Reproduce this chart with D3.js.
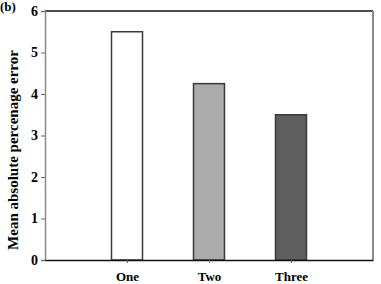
<!DOCTYPE html>
<html>
<head>
<meta charset="utf-8">
<script src="https://cdn.jsdelivr.net/npm/d3@7"></script>
<style>
  body { margin: 0; background: #fff; }
  svg text { font-weight: bold; }
</style>
</head>
<body>
<div id="chart"></div>
<script>
// data
const categories = ["One", "Two", "Three"];
const values = [5.5, 4.25, 3.5];
const fills = ["#ffffff", "#ababab", "#5f5f5f"];
const yTicks = [0, 1, 2, 3, 4, 5, 6];

const width = 381, height = 284;
const margin = {top: 11, right: 8, bottom: 24, left: 45};
const serif = "'Liberation Serif', 'Times New Roman', serif";

const svg = d3.select("#chart")
  .append("svg")
    .attr("width", width)
    .attr("height", height);

// x: one empty slot either side of the three bars
const x = d3.scalePoint()
  .domain(["_l", ...categories, "_r"])
  .range([margin.left, width - margin.right]);

const y = d3.scaleLinear()
  .domain([0, 6])
  .range([height - margin.bottom, margin.top]);

const barW = 31;

// frame: top & bottom black, sides grey
svg.append("line")
  .attr("x1", margin.left).attr("x2", width - margin.right)
  .attr("y1", y(6)).attr("y2", y(6))
  .attr("stroke", "#111").attr("stroke-width", 1.5);
svg.append("line")
  .attr("x1", width - margin.right).attr("x2", width - margin.right)
  .attr("y1", y(6)).attr("y2", y(0))
  .attr("stroke", "#8a8a8a").attr("stroke-width", 2);

// bars
svg.selectAll("rect.bar")
  .data(values)
  .join("rect")
    .attr("class", "bar")
    .attr("x", (d, i) => x(categories[i]) - barW / 2)
    .attr("y", d => y(d))
    .attr("width", barW)
    .attr("height", d => y(0) - y(d))
    .attr("fill", (d, i) => fills[i])
    .attr("stroke", "#3a3a3a")
    .attr("stroke-width", 1.5);

// y axis
const yAxis = svg.append("g")
  .attr("transform", `translate(${margin.left},0)`)
  .call(d3.axisLeft(y).tickValues(yTicks).tickSize(4).tickPadding(3).tickFormat(d3.format("d")));
yAxis.attr("font-family", serif);
yAxis.select(".domain").attr("stroke", "#8a8a8a").attr("stroke-width", 1.5);
yAxis.selectAll(".tick line").attr("stroke", "#666");
yAxis.selectAll("text")
  .attr("font-size", "14px")
  .attr("fill", "#000");

// x axis
const xAxis = svg.append("g")
  .attr("transform", `translate(0,${y(0)})`)
  .call(d3.axisBottom(x).tickValues(categories).tickSize(3).tickPadding(9).tickSizeOuter(0));
xAxis.attr("font-family", serif);
xAxis.select(".domain").attr("stroke", "#111").attr("stroke-width", 1.5);
xAxis.selectAll(".tick line").attr("stroke", "#666");
xAxis.selectAll("text")
  .attr("font-size", "13px")
  .attr("fill", "#000");

// y title
svg.append("text")
  .attr("transform", "translate(18,150) rotate(-90)")
  .attr("text-anchor", "middle")
  .attr("font-family", serif)
  .attr("font-size", "15px")
  .text("Mean absolute percenage error");

// panel tag
svg.append("text")
  .attr("x", 0)
  .attr("y", 11)
  .attr("font-family", serif)
  .attr("font-size", "13px")
  .text("(b)");
</script>
</body>
</html>
